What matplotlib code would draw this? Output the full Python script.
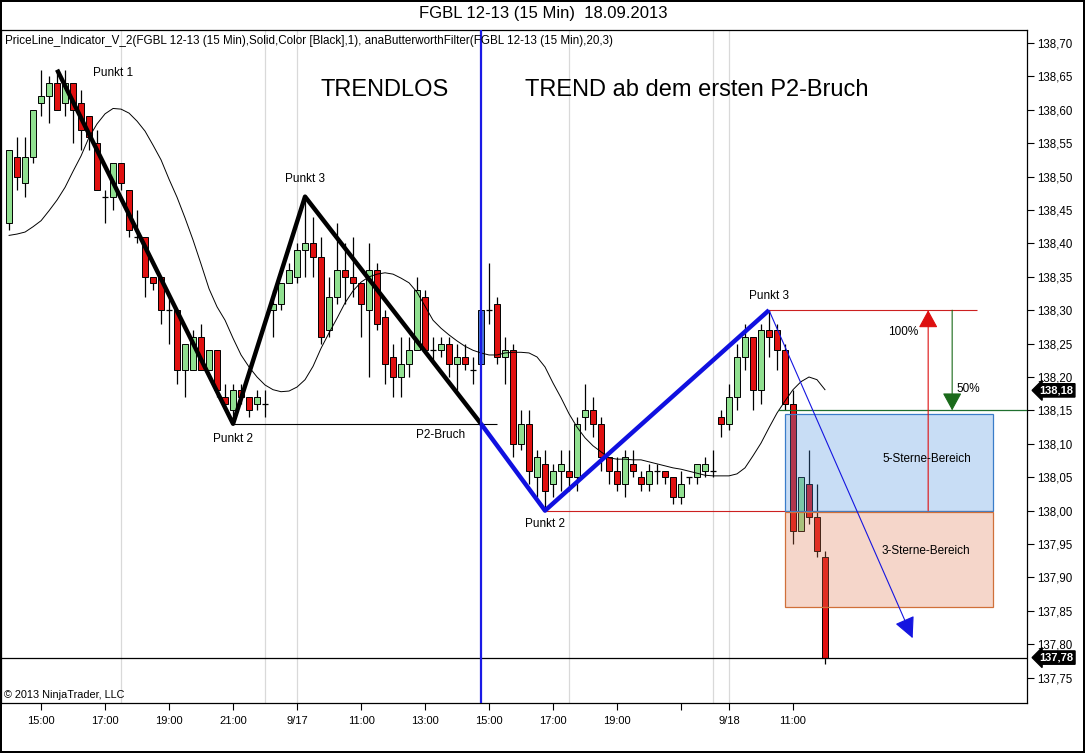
import matplotlib
matplotlib.use('Agg')
import matplotlib.pyplot as plt
import matplotlib.transforms as mtransforms
from matplotlib.patches import Rectangle
from matplotlib.ticker import MultipleLocator, FuncFormatter

plt.rcParams['font.family'] = ['Liberation Sans', 'DejaVu Sans']

# FGBL 12-13, 15-Minuten-Kerzen (Index = Kerze)
opens = [138.43, 138.53, 138.49, 138.53, 138.61, 138.62, 138.64, 138.61, 138.64, 138.61,
         138.59, 138.55, 138.47, 138.47, 138.52, 138.48, 138.41, 138.41, 138.35, 138.35,
         138.30, 138.30, 138.21, 138.21, 138.26, 138.21, 138.24, 138.17, 138.15, 138.18,
         138.17, 138.16, 138.16, 138.30, 138.31, 138.34, 138.35, 138.39, 138.40, 138.38,
         138.27, 138.32, 138.36, 138.35, 138.34, 138.30, 138.36, 138.29, 138.23, 138.20,
         138.22, 138.24, 138.32, 138.24, 138.24, 138.25, 138.22, 138.23, 138.21, 138.22,
         138.30, 138.31, 138.23, 138.24, 138.10, 138.13, 138.05, 138.07, 138.04, 138.06,
         138.06, 138.05, 138.14, 138.15, 138.13, 138.08, 138.06, 138.04, 138.07, 138.05,
         138.04, 138.06, 138.06, 138.05, 138.02, 138.05, 138.05, 138.06, 138.06, 138.14,
         138.13, 138.17, 138.23, 138.26, 138.18, 138.27, 138.27, 138.24, 138.16, 137.97,
         138.04, 137.99, 137.93]
highs = [138.54, 138.56, 138.56, 138.60, 138.66, 138.65, 138.66, 138.66, 138.64, 138.63,
         138.59, 138.57, 138.48, 138.52, 138.52, 138.48, 138.45, 138.41, 138.35, 138.35,
         138.32, 138.30, 138.25, 138.27, 138.28, 138.24, 138.24, 138.19, 138.19, 138.19,
         138.17, 138.18, 138.18, 138.33, 138.34, 138.37, 138.40, 138.47, 138.44, 138.41,
         138.35, 138.43, 138.40, 138.41, 138.34, 138.40, 138.37, 138.30, 138.25, 138.26,
         138.26, 138.35, 138.33, 138.26, 138.26, 138.26, 138.25, 138.25, 138.23, 138.30,
         138.37, 138.32, 138.26, 138.25, 138.15, 138.15, 138.09, 138.09, 138.07, 138.09,
         138.09, 138.14, 138.19, 138.17, 138.14, 138.08, 138.08, 138.09, 138.09, 138.06,
         138.07, 138.07, 138.06, 138.05, 138.06, 138.05, 138.07, 138.08, 138.09, 138.15,
         138.19, 138.25, 138.28, 138.26, 138.28, 138.30, 138.28, 138.25, 138.18, 138.05,
         138.09, 138.04, 137.94]
lows = [138.42, 138.48, 138.47, 138.52, 138.59, 138.58, 138.60, 138.59, 138.55, 138.54,
        138.54, 138.48, 138.43, 138.45, 138.48, 138.41, 138.40, 138.32, 138.33, 138.28,
        138.25, 138.19, 138.17, 138.21, 138.21, 138.21, 138.17, 138.15, 138.13, 138.16,
        138.14, 138.15, 138.14, 138.26, 138.30, 138.34, 138.34, 138.35, 138.35, 138.25,
        138.26, 138.31, 138.31, 138.32, 138.26, 138.20, 138.27, 138.19, 138.17, 138.17,
        138.20, 138.24, 138.24, 138.22, 138.23, 138.20, 138.18, 138.21, 138.19, 138.22,
        138.28, 138.22, 138.19, 138.08, 138.09, 138.04, 138.02, 138.00, 138.02, 138.03,
        138.03, 138.03, 138.12, 138.11, 138.06, 138.04, 138.03, 138.02, 138.05, 138.03,
        138.03, 138.04, 138.04, 138.01, 138.01, 138.04, 138.04, 138.05, 138.05, 138.11,
        138.12, 138.15, 138.21, 138.15, 138.16, 138.23, 138.21, 138.15, 137.95, 137.97,
        137.98, 137.93, 137.77]
closes = [138.54, 138.50, 138.53, 138.60, 138.62, 138.64, 138.60, 138.64, 138.60, 138.57,
          138.56, 138.48, 138.47, 138.52, 138.49, 138.42, 138.41, 138.35, 138.34, 138.30,
          138.30, 138.21, 138.25, 138.26, 138.21, 138.24, 138.18, 138.16, 138.18, 138.17,
          138.15, 138.17, 138.16, 138.31, 138.34, 138.36, 138.39, 138.40, 138.38, 138.26,
          138.32, 138.36, 138.35, 138.34, 138.31, 138.36, 138.28, 138.22, 138.20, 138.22,
          138.24, 138.33, 138.24, 138.24, 138.25, 138.22, 138.23, 138.22, 138.21, 138.30,
          138.30, 138.23, 138.24, 138.10, 138.13, 138.06, 138.08, 138.03, 138.06, 138.07,
          138.05, 138.13, 138.15, 138.13, 138.08, 138.06, 138.04, 138.08, 138.06, 138.04,
          138.06, 138.06, 138.05, 138.02, 138.04, 138.05, 138.07, 138.07, 138.06, 138.13,
          138.17, 138.23, 138.26, 138.18, 138.27, 138.26, 138.24, 138.16, 137.97, 138.05,
          137.99, 137.94, 137.78]
# anaButterworthFilter(20,3)
butterworth = [138.412, 138.414, 138.417, 138.425, 138.434, 138.449, 138.465, 138.484, 138.508, 138.531,
               138.559, 138.579, 138.594, 138.602, 138.601, 138.595, 138.583, 138.568, 138.547, 138.525,
               138.496, 138.469, 138.438, 138.405, 138.369, 138.332, 138.305, 138.285, 138.258, 138.233,
               138.215, 138.200, 138.188, 138.181, 138.178, 138.179, 138.185, 138.196, 138.216, 138.243,
               138.266, 138.288, 138.311, 138.329, 138.342, 138.350, 138.354, 138.356, 138.354, 138.348,
               138.341, 138.327, 138.306, 138.285, 138.273, 138.263, 138.254, 138.246, 138.240, 138.236,
               138.233, 138.233, 138.236, 138.237, 138.237, 138.236, 138.230, 138.215, 138.191, 138.169,
               138.145, 138.125, 138.109, 138.097, 138.088, 138.079, 138.077, 138.077, 138.076, 138.076,
               138.073, 138.070, 138.067, 138.064, 138.062, 138.059, 138.056, 138.053, 138.052, 138.052,
               138.052, 138.055, 138.064, 138.082, 138.101, 138.124, 138.146, 138.164, 138.181, 138.193,
               138.200, 138.196, 138.181]

x_ticks = [4, 12, 20, 28, 36, 44, 52, 60, 68, 76, 84, 90, 98]
x_labels = ['15:00', '17:00', '19:00', '21:00', '9/17', '11:00', '13:00', '15:00',
            '17:00', '19:00', '', '9/18', '11:00']
session_lines = [14, 32, 36, 70, 88, 90]

# Punkte 1-2-3 (Kerzenindex, Kurs)
trendlos_bars = [6, 28, 37, 59]
trendlos_prices = [138.66, 138.13, 138.47, 138.13]
trend_bars = [59, 67, 95]
trend_prices = [138.13, 138.00, 138.30]
p2_bruch_bar = 59
p2_level = 138.13
p3_level = 138.30
p2_new_level = 138.00
half_level = 138.15
zone3_low = 137.855
target_bar, target_price = 112.96, 137.809

fig = plt.figure(figsize=(10.85, 7.53), dpi=100, facecolor='white')
fig.patch.set_edgecolor('black')
fig.patch.set_linewidth(1.5)
ax = fig.add_axes([0.001, 0.0664, 0.9455, 0.8938])
ax.set_facecolor('white')

# Sitzungslinien
for b in session_lines:
    ax.axvline(b, color='#d9d9d9', lw=0.9, zorder=0)

# Kerzen
w = 0.65
for i in range(len(opens)):
    o, h, l, c = opens[i], highs[i], lows[i], closes[i]
    ax.vlines(i, l, h, color='black', lw=0.9, zorder=2)
    if o == c:
        ax.hlines(c, i - w / 2, i + w / 2, color='black', lw=0.9, zorder=3)
        continue
    fc = '#90e090' if c > o else '#e01010'
    if i == p2_bruch_bar:
        fc = '#4a78d8'
    ax.add_patch(Rectangle((i - w / 2, min(o, c)), w, abs(c - o), facecolor=fc,
                           edgecolor='black', lw=0.7, zorder=3))

# Butterworth-Filter
ax.plot(range(len(butterworth)), butterworth, color='black', lw=0.7, zorder=4)

# Preislinie
ax.axhline(closes[-1], color='black', lw=0.9, zorder=4)

# Trendlos-Phase
ax.plot(trendlos_bars, trendlos_prices, color='black', lw=3.2, solid_capstyle='butt', zorder=5)
ax.hlines(p2_level, trendlos_bars[1], p2_bruch_bar + 2, color='black', lw=0.8, zorder=5)

# Trend-Phase
ax.axvline(p2_bruch_bar, color='#1a1ae6', lw=1.6, zorder=6)
ax.plot(trend_bars, trend_prices, color='#1010e0', lw=3.2, solid_capstyle='butt', zorder=6)
ax.hlines(p3_level, trend_bars[2], 121, color='#cc2020', lw=0.8, zorder=5)
ax.hlines(p2_new_level, trend_bars[1], 123, color='#cc2020', lw=0.8, zorder=5)
ax.hlines(half_level, 96.1, 128, color='#1f6f2f', lw=0.9, zorder=5)

# Zonen
ax.add_patch(Rectangle((97, p2_new_level), 26, half_level - 0.005 - p2_new_level,
                       facecolor='#4a90e0', alpha=0.3, edgecolor='none', zorder=5))
ax.add_patch(Rectangle((97, p2_new_level), 26, half_level - 0.005 - p2_new_level,
                       facecolor='none', edgecolor='#3a7dc9', lw=0.9, zorder=5))
ax.add_patch(Rectangle((97, zone3_low), 26, p2_new_level - 0.002 - zone3_low,
                       facecolor='#e07a50', alpha=0.3, edgecolor='none', zorder=5))
ax.add_patch(Rectangle((97, zone3_low), 26, p2_new_level - 0.002 - zone3_low,
                       facecolor='none', edgecolor='#d0703a', lw=0.9, zorder=5))

# Pfeile
ax.annotate('', xy=(114.9, p3_level), xytext=(114.9, p2_new_level),
            arrowprops=dict(arrowstyle='-|>,head_length=0.55,head_width=0.3', color='#dd1010',
                            lw=0.8, shrinkA=0, shrinkB=0, mutation_scale=20), zorder=7)
ax.annotate('', xy=(117.9, half_level), xytext=(117.9, p3_level),
            arrowprops=dict(arrowstyle='-|>,head_length=0.55,head_width=0.3', color='#1a6a1a',
                            lw=0.8, shrinkA=0, shrinkB=0, mutation_scale=20), zorder=7)
ax.annotate('', xy=(target_bar, target_price), xytext=(trend_bars[2], p3_level),
            arrowprops=dict(arrowstyle='-|>,head_length=0.65,head_width=0.32', color='#1515e0',
                            lw=0.8, shrinkA=0, shrinkB=0, mutation_scale=20), zorder=7)

# Beschriftungen
fs = 8.5
ax.text(13, 138.655, 'Punkt 1', fontsize=fs, ha='center', va='center', zorder=8)
ax.text(37, 138.496, 'Punkt 3', fontsize=fs, ha='center', va='center', zorder=8)
ax.text(28, 138.107, 'Punkt 2', fontsize=fs, ha='center', va='center', zorder=8)
ax.text(54, 138.113, 'P2-Bruch', fontsize=fs, ha='center', va='center', zorder=8)
ax.text(67, 137.980, 'Punkt 2', fontsize=fs, ha='center', va='center', zorder=8)
ax.text(95, 138.321, 'Punkt 3', fontsize=fs, ha='center', va='center', zorder=8)
ax.text(47, 138.630, 'TRENDLOS', fontsize=17, ha='center', va='center', zorder=8)
ax.text(86, 138.630, 'TREND ab dem ersten P2-Bruch', fontsize=17, ha='center', va='center', zorder=8)
ax.text(114.75, 138.077, '5-Sterne-Bereich', fontsize=fs, ha='center', va='center', zorder=8)
ax.text(114.6, 137.940, '3-Sterne-Bereich', fontsize=fs, ha='center', va='center', zorder=8)
ax.text(111.75, 138.267, '100%', fontsize=fs, ha='center', va='center', zorder=8)
ax.text(119.9, 138.182, '50%', fontsize=fs, ha='center', va='center', zorder=8)

ax.text(0.004, 0.984,
        'PriceLine_Indicator_V_2(FGBL 12-13 (15 Min),Solid,Color [Black],1), '
        'anaButterworthFilter(FGBL 12-13 (15 Min),20,3)',
        transform=ax.transAxes, fontsize=8.4, ha='left', va='center', zorder=8)
ax.text(0.003, 0.004, '© 2013 NinjaTrader, LLC', transform=ax.transAxes,
        fontsize=7.8, ha='left', va='bottom', zorder=8)
fig.text(0.5005, 0.982, 'FGBL 12-13 (15 Min)  18.09.2013', fontsize=12, ha='center', va='center')

# Achsen
ax.set_xlim(-1, 127.25)
ax.set_ylim(137.712, 138.7195)
ax.set_xticks(x_ticks)
ax.set_xticklabels(x_labels, fontsize=8)
ax.yaxis.tick_right()
ax.yaxis.set_major_locator(MultipleLocator(0.05))
ax.yaxis.set_major_formatter(FuncFormatter(lambda v, p: f'{v:.2f}'.replace('.', ',')))
ax.tick_params(axis='y', labelsize=8.3, length=5, width=0.8, pad=2)
ax.tick_params(axis='x', length=5, width=0.8, pad=4)
for s in ax.spines.values():
    s.set_color('black')
    s.set_linewidth(0.9)

# Kursmarken an der Preisachse
trans = mtransforms.blended_transform_factory(ax.transAxes, ax.transData)
for val in [round(butterworth[-1], 2), closes[-1]]:
    ax.text(1.012, val, f'{val:.2f}'.replace('.', ','), transform=trans, fontsize=8,
            fontweight='bold', color='white', ha='left', va='center', clip_on=False, zorder=9,
            bbox=dict(boxstyle='larrow,pad=0.15', fc='black', ec='black'))

plt.savefig('out.png', dpi=100, facecolor='white', edgecolor=fig.get_edgecolor())
